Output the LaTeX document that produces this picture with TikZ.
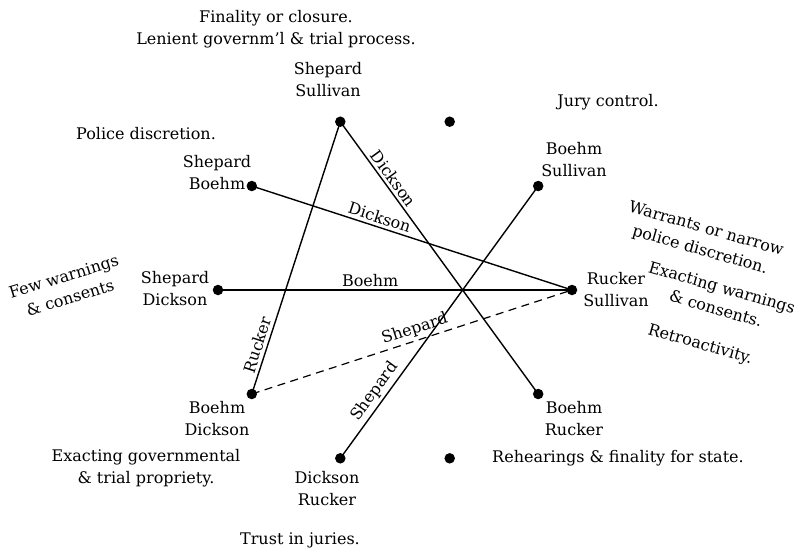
\documentclass[tikz,border=0pt]{standalone}
\usepackage{fontspec}
\setmainfont{DejaVu Serif}
\begin{document}
\begin{tikzpicture}[x=1pt,y=-1pt,
  every node/.style={font=\fontsize{16}{22}\selectfont},
  dot/.style={circle,fill=black,inner sep=0pt,minimum size=10.5pt},
  txt/.style={align=center,inner sep=0pt},
  lbl/.style={sloped,above,inner sep=3pt},
  conn/.style={line width=1.4pt},
  dashconn/.style={line width=1.2pt,dash pattern=on 8pt off 5.5pt}]
\useasboundingbox (0,0) rectangle (797,550);
% ten positions evenly spaced on a circle
\node[dot] (RS) at (572,290) {};
\node[dot] (BS) at (538.2,186) {};
\node[dot] (T)  at (449.7,121.7) {};
\node[dot] (SS) at (340.3,121.7) {};
\node[dot] (SB) at (251.8,186) {};
\node[dot] (SD) at (218,290) {};
\node[dot] (BD) at (251.8,394) {};
\node[dot] (DR) at (340.3,458.3) {};
\node[dot] (B)  at (449.7,458.3) {};
\node[dot] (BR) at (538.2,394) {};
% connectors
\draw[conn] (BD.center) -- node[lbl,pos=0.17] {Rucker} (SS.center);
\draw[conn] (SS.center) -- node[lbl,pos=0.23] {Dickson} (BR.center);
\draw[conn] (SB.center) -- node[lbl,pos=0.39] {Dickson} (RS.center);
\draw[conn] (SD.center) -- node[lbl,pos=0.43] {Boehm} (RS.center);
\draw[conn] (DR.center) -- node[lbl,pos=0.22] {Shepard} (BS.center);
\draw[dashconn] (BD.center) -- node[lbl,pos=0.52] {Shepard} (RS.center);
% pair labels
\node[txt] (lSS) at (328,80) {Shepard\\Sullivan};
\node[txt] (lSB) at (217,173) {Shepard\\Boehm};
\node[txt] (lBS) at (574,160) {Boehm\\Sullivan};
\node[txt] (lSD) at (175,289) {Shepard\\Dickson};
\node[txt] (lRS) at (616,290) {Rucker\\Sullivan};
\node[txt] (lBD) at (217,419) {Boehm\\Dickson};
\node[txt] (lBR) at (574,419) {Boehm\\Rucker};
\node[txt] (lDR) at (327,489) {Dickson\\Rucker};
% themes
\node[txt] (t1) at (276,29) {Finality or closure.\\Lenient governm'l \& trial process.};
\node[txt] (t2) at (608,102) {Jury control.};
\node[txt] (t3) at (146,134) {Police discretion.};
\node[txt,rotate=17] (t4) at (67,287) {Few warnings\\\& consents};
\node[txt,rotate=-16] (t5) at (703,240) {Warrants or narrow\\police discretion.};
\node[txt,rotate=-16] (t6) at (719,298) {Exacting warnings\\\& consents.};
\node[txt,rotate=-16] (t7) at (700,345) {Retroactivity.};
\node[txt] (t8) at (146,468) {Exacting governmental\\\& trial propriety.};
\node[txt] (t9) at (618,458) {Rehearings \& finality for state.};
\node[txt] (t10) at (300,540) {Trust in juries.};
\end{tikzpicture}
\end{document}
